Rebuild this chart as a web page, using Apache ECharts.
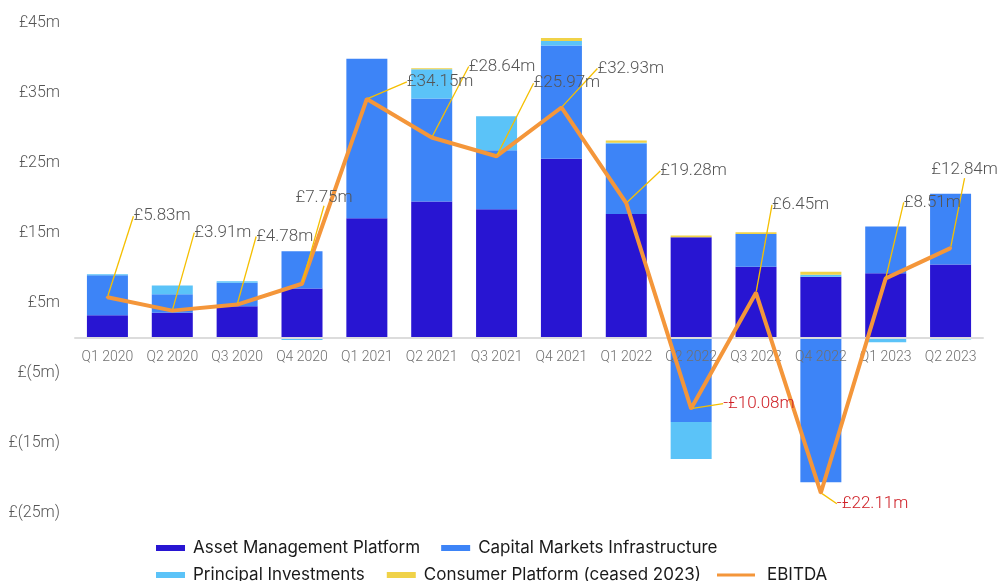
<!DOCTYPE html>
<html>
<head>
<meta charset="utf-8">
<script src="https://cdn.jsdelivr.net/npm/echarts@6/dist/echarts.min.js"></script>
<style>
  html, body { margin: 0; padding: 0; background: #fff; }
  #chart { width: 998px; height: 581px; }
</style>
</head>
<body>
<div id="chart"></div>
<script>
const categories = ['Q1 2020', 'Q2 2020', 'Q3 2020', 'Q4 2020', 'Q1 2021', 'Q2 2021', 'Q3 2021',
  'Q4 2021', 'Q1 2022', 'Q2 2022', 'Q3 2022', 'Q4 2022', 'Q1 2023', 'Q2 2023'];

const assetManagement = [3.26, 3.6, 4.54, 7.07, 17.1, 19.5, 18.4, 25.6, 17.7, 14.4, 10.17, 8.74, 9.26, 10.5];
const capitalMarkets = [5.71, 2.66, 3.34, 5.33, 22.8, 14.7, 8.43, 16.2, 10.1, -12.0, 4.7, -20.6, 6.67, 10.1];
const principalInvestments = [0.15, 1.24, 0.23, -0.3, 0, 4.2, 4.86, 0.62, 0.1, -5.3, 0, 0.3, -0.6, -0.2];
const consumerPlatform = [0, 0, 0, 0, 0, 0.15, 0, 0.43, 0.3, 0.24, 0.24, 0.43, 0, 0];
const ebitda = [5.83, 3.91, 4.78, 7.75, 34.15, 28.64, 25.97, 32.93, 19.28, -10.08, 6.45, -22.11, 8.51, 12.84];

// pixel offsets of the leader-line knee from each EBITDA point; 'top' puts text above the knee
const labelOffsets = [[12, -82], [8, -79], [5, -69], [22, -76, 'top'], [26, -18], [23, -72], [23, -74],
  [22, -40], [20, -33], [18, -6], [2, -89], [2, 10], [4, -77], [14, -68, 'top']];

const colors = ['#2815d2', '#3d84f7', '#5bc3f8', '#f0d248', '#f4963a'];
const thinFont = 'Roboto';
const legendFont = 'Inter';

function money(v) {
  return v < 0 ? '-£' + Math.abs(v).toFixed(2) + 'm' : '£' + v.toFixed(2) + 'm';
}

const chart = echarts.init(document.getElementById('chart'));

const barSeries = [
  ['Asset Management Platform', assetManagement],
  ['Capital Markets Infrastructure', capitalMarkets],
  ['Principal Investments', principalInvestments],
  ['Consumer Platform (ceased 2023)', consumerPlatform],
].map(([name, data], i) => ({
  name,
  type: 'bar',
  stack: 'total',
  barWidth: 41,
  data,
  itemStyle: { color: colors[i] },
  emphasis: { disabled: true },
}));

const ebitdaData = ebitda.map((v) => ({
  value: v,
  label: { color: v < 0 ? '#cf2027' : '#555' },
}));

const legendText = { fontFamily: legendFont, fontSize: 17, lineHeight: 18, color: '#1a1a1a', padding: [0, 0, 0, 3] };

chart.setOption({
  animation: false,
  color: colors,
  grid: { left: 75, right: 15, top: 23, bottom: 68 },
  legend: [
    {
      left: 151, top: 534,
      itemWidth: 29, itemHeight: 6, itemGap: 21,
      icon: 'rect',
      textStyle: legendText,
      data: ['Asset Management Platform', 'Capital Markets Infrastructure'],
    },
    {
      left: 151, top: 561,
      itemWidth: 29, itemHeight: 6, itemGap: 22,
      icon: 'rect',
      textStyle: legendText,
      data: ['Principal Investments', 'Consumer Platform (ceased 2023)'],
    },
    {
      left: 712, top: 561,
      itemWidth: 38, itemHeight: 3,
      icon: 'rect',
      textStyle: Object.assign({}, legendText, { padding: [0, 0, 0, 7] }),
      data: ['EBITDA'],
    },
  ],
  xAxis: {
    type: 'category',
    data: categories,
    position: 'bottom',
    offset: -175,
    z: 3,
    axisLine: { onZero: false, lineStyle: { color: '#dcdcdc', width: 2 } },
    axisTick: { show: false },
    axisLabel: { interval: 0, margin: 12, color: '#707070', fontFamily: thinFont, fontWeight: 300, fontSize: 14 },
  },
  yAxis: {
    type: 'value',
    min: -25,
    max: 45,
    interval: 10,
    splitLine: { show: false },
    axisLine: { show: false },
    axisTick: { show: false },
    axisLabel: {
      margin: 15,
      color: '#555',
      fontFamily: thinFont,
      fontWeight: 300,
      fontSize: 16,
      formatter: (v) => (v < 0 ? '£(' + -v + 'm)' : '£' + v + 'm'),
    },
  },
  series: barSeries.concat([
    {
      name: 'EBITDA',
      type: 'line',
      data: ebitdaData,
      z: 5,
      symbol: 'circle',
      symbolSize: 3,
      lineStyle: { color: colors[4], width: 4 },
      itemStyle: { color: colors[4] },
      emphasis: { disabled: true },
      label: {
        show: true,
        fontFamily: thinFont,
        fontWeight: 300,
        fontSize: 17,
        formatter: (p) => money(p.value),
      },
      labelLine: { show: true, lineStyle: { color: '#f5bf00', width: 1.3 } },
      labelLayout: function (p) {
        const o = labelOffsets[p.dataIndex];
        const cx = p.rect.x + p.rect.width / 2;
        const cy = p.rect.y + p.rect.height / 2;
        const kx = cx + o[0];
        const ky = cy + o[1];
        if (o[2] === 'top') {
          return {
            x: kx, y: ky - 2, align: 'center', verticalAlign: 'bottom',
            labelLinePoints: [[cx, cy], [kx, ky], [kx, ky]],
          };
        }
        return {
          x: kx + 14, y: ky + 1, align: 'left', verticalAlign: 'middle',
          labelLinePoints: [[cx, cy], [kx, ky], [kx + 8, ky]],
        };
      },
    },
  ]),
});

window.addEventListener('resize', () => chart.resize());
</script>
</body>
</html>
